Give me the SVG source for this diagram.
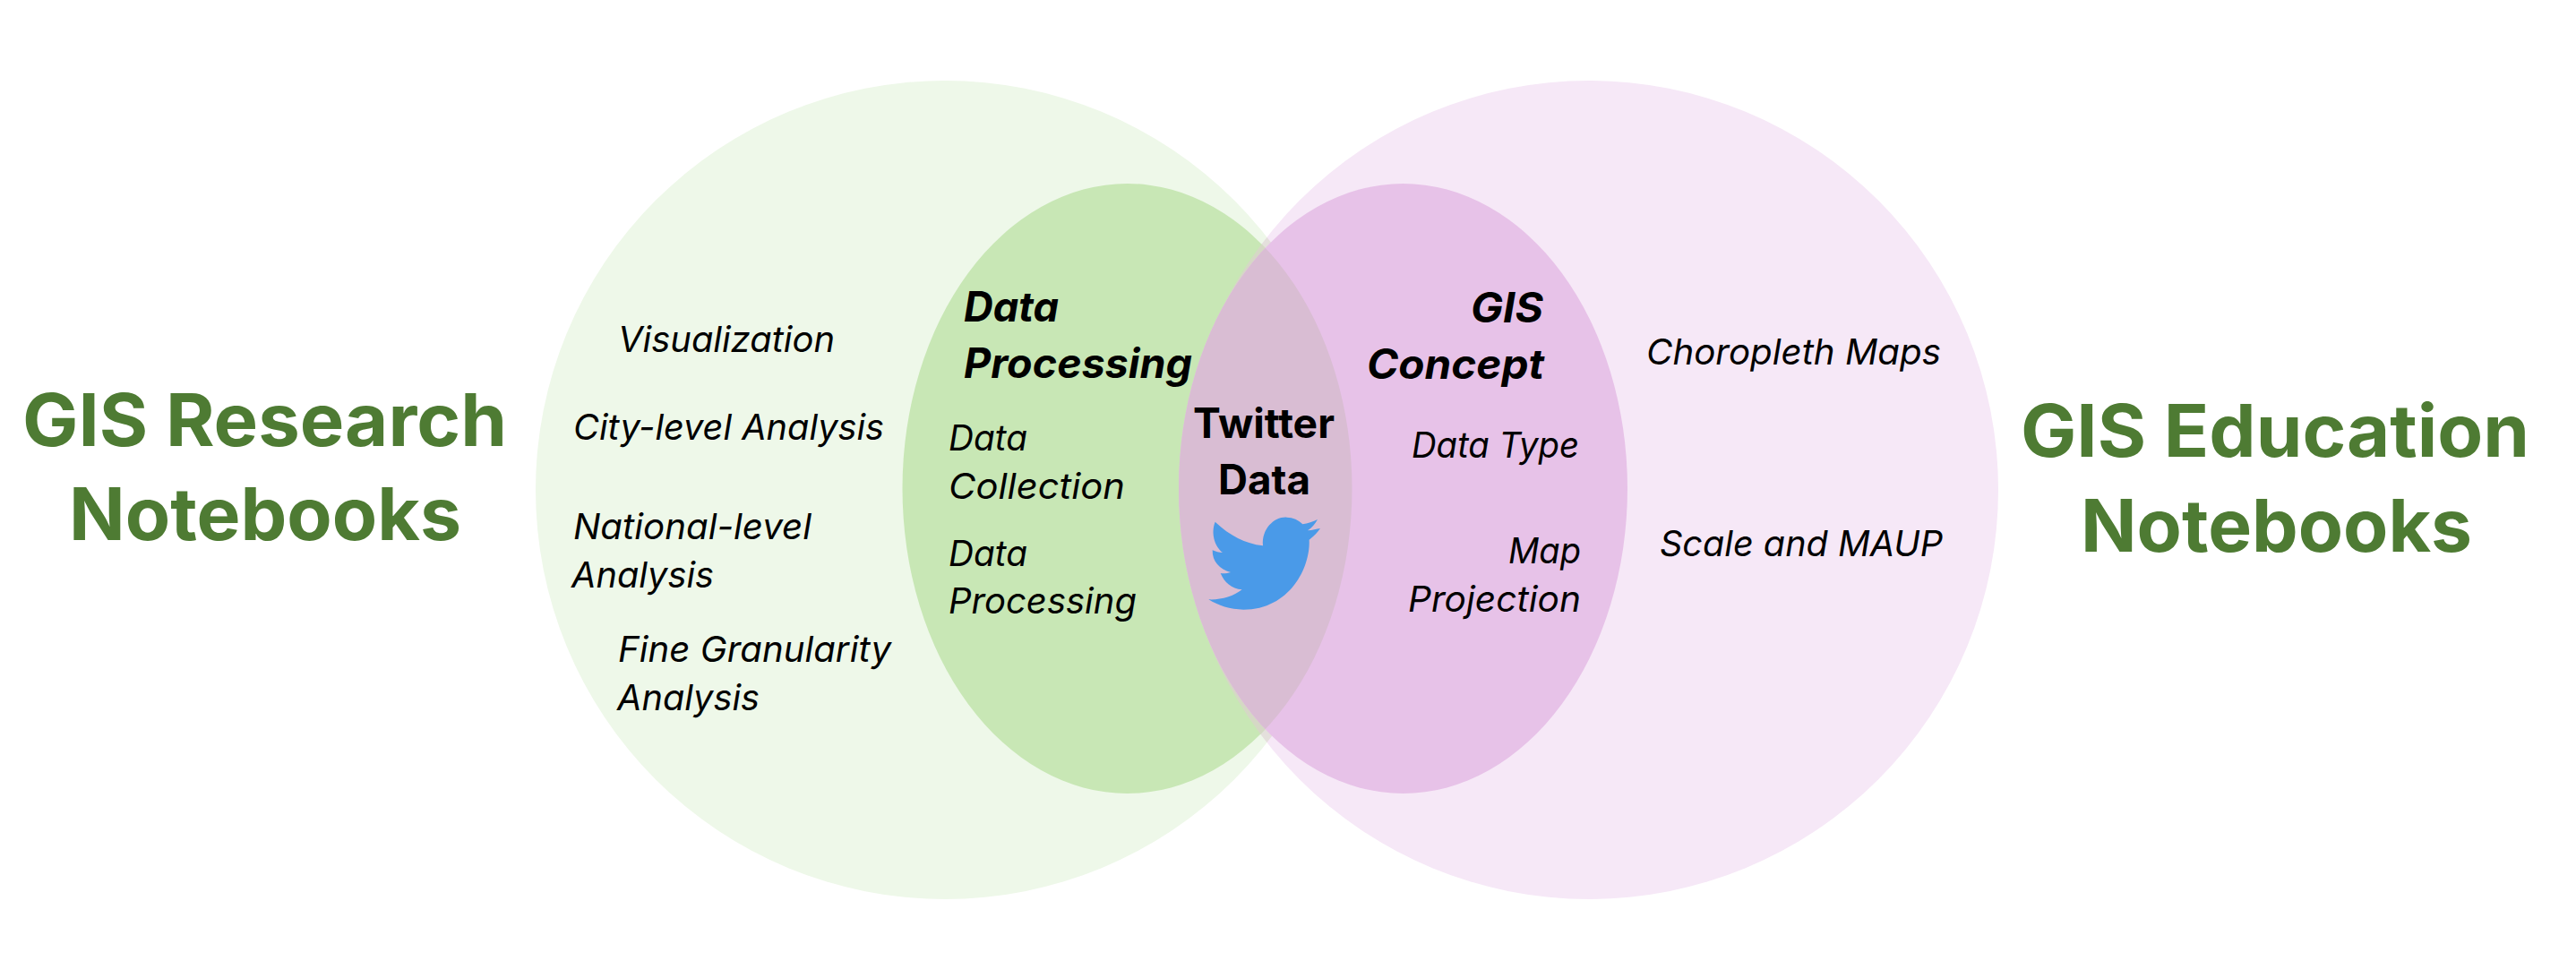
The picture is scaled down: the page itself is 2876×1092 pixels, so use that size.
<svg xmlns="http://www.w3.org/2000/svg" width="2876" height="1092" viewBox="0 0 2876 1092">
<style>
text{font-family:Inter,"Liberation Sans",sans-serif;fill:#000}
.h{font-size:81px;font-weight:700;fill:#4E7B33}
.i{font-size:40px;font-style:italic}
.b{font-size:46px;font-style:italic;font-weight:700}
.t{font-size:46px;font-weight:700}
</style>
<defs>
<clipPath id="cp"><ellipse cx="1258.5" cy="545.5" rx="251" ry="340.5"/></clipPath>
<clipPath id="bg"><circle cx="1055" cy="547" r="457"/></clipPath>
</defs>
<rect width="2876" height="1092" fill="#fff"/>
<g id="research-circle"><circle cx="1055" cy="547" r="457" fill="#EEF8E9"/></g>
<g id="education-circle"><circle cx="1774" cy="547" r="457" fill="#F6E8F7"/>
<circle cx="1774" cy="547" r="457" fill="#E4E0DC" clip-path="url(#bg)"/></g>
<g id="data-processing-ellipse"><ellipse cx="1258.5" cy="545.5" rx="251" ry="340.5" fill="#C8E7B5"/>
<circle cx="1774" cy="547" r="457" fill="#D5D8C5" clip-path="url(#cp)"/></g>
<g id="gis-concept-ellipse"><ellipse cx="1566.5" cy="545.5" rx="250.5" ry="340.5" fill="#E7C2E8"/>
<ellipse cx="1566.5" cy="545.5" rx="250.5" ry="340.5" fill="#D9BDD3" clip-path="url(#cp)"/></g>
<g id="connectors"/>
<g id="research-label"><text class="h" x="25" y="498" textLength="541" lengthAdjust="spacingAndGlyphs">GIS Research</text><text class="h" x="77" y="603" textLength="438" lengthAdjust="spacingAndGlyphs">Notebooks</text></g>
<g id="education-label"><text class="h" x="2256" y="510" textLength="568" lengthAdjust="spacingAndGlyphs">GIS Education</text><text class="h" x="2323" y="616" textLength="437" lengthAdjust="spacingAndGlyphs">Notebooks</text></g>
<g id="research-items">
<text class="i" x="690" y="393" textLength="242" lengthAdjust="spacingAndGlyphs">Visualization</text>
<text class="i" x="640" y="491" textLength="347" lengthAdjust="spacingAndGlyphs">City-level Analysis</text>
<text class="i" x="640" y="602" textLength="266" lengthAdjust="spacingAndGlyphs">National-level</text><text class="i" x="638" y="656" textLength="159" lengthAdjust="spacingAndGlyphs">Analysis</text>
<text class="i" x="690" y="739" textLength="305" lengthAdjust="spacingAndGlyphs">Fine Granularity</text><text class="i" x="689" y="793" textLength="159" lengthAdjust="spacingAndGlyphs">Analysis</text>
</g>
<g id="processing-items">
<text class="b" x="1076" y="359" textLength="106" lengthAdjust="spacingAndGlyphs">Data</text><text class="b" x="1076" y="422" textLength="255" lengthAdjust="spacingAndGlyphs">Processing</text>
<text class="i" x="1059" y="503" textLength="88" lengthAdjust="spacingAndGlyphs">Data</text><text class="i" x="1059" y="557" textLength="197" lengthAdjust="spacingAndGlyphs">Collection</text>
<text class="i" x="1059" y="632" textLength="88" lengthAdjust="spacingAndGlyphs">Data</text><text class="i" x="1059" y="685" textLength="210" lengthAdjust="spacingAndGlyphs">Processing</text>
</g>
<g id="twitter"><text class="t" x="1332" y="489" textLength="158" lengthAdjust="spacingAndGlyphs">Twitter</text><text class="t" x="1360" y="552" textLength="103" lengthAdjust="spacingAndGlyphs">Data</text>
<path transform="translate(1250 400) scale(.33333)" fill="#4A9AE8" d="M320 548C370 595 420 620 480 628C475 570 520 530 560 533C580 533 600 542 613 556C630 553 648 548 663 540C655 555 645 567 630 577C645 576 660 572 672 570C662 585 650 597 635 608C640 700 570 842 415 842C370 842 330 828 298 808C340 810 380 798 410 775C375 772 350 750 338 720C350 722 360 720 372 717C335 708 310 680 311 643C322 648 333 651 345 651C318 630 305 585 320 548Z"/></g>
<g id="concept-items">
<text class="b" x="1642" y="360" textLength="81" lengthAdjust="spacingAndGlyphs">GIS</text><text class="b" x="1526" y="423" textLength="198" lengthAdjust="spacingAndGlyphs">Concept</text>
<text class="i" x="1576" y="511" textLength="187" lengthAdjust="spacingAndGlyphs">Data Type</text>
<text class="i" x="1684" y="629" textLength="81" lengthAdjust="spacingAndGlyphs">Map</text><text class="i" x="1572" y="683" textLength="193" lengthAdjust="spacingAndGlyphs">Projection</text>
</g>
<g id="education-items">
<text class="i" x="1838" y="407" textLength="329" lengthAdjust="spacingAndGlyphs">Choropleth Maps</text>
<text class="i" x="1853" y="621" textLength="316" lengthAdjust="spacingAndGlyphs">Scale and MAUP</text>
</g>
</svg>
